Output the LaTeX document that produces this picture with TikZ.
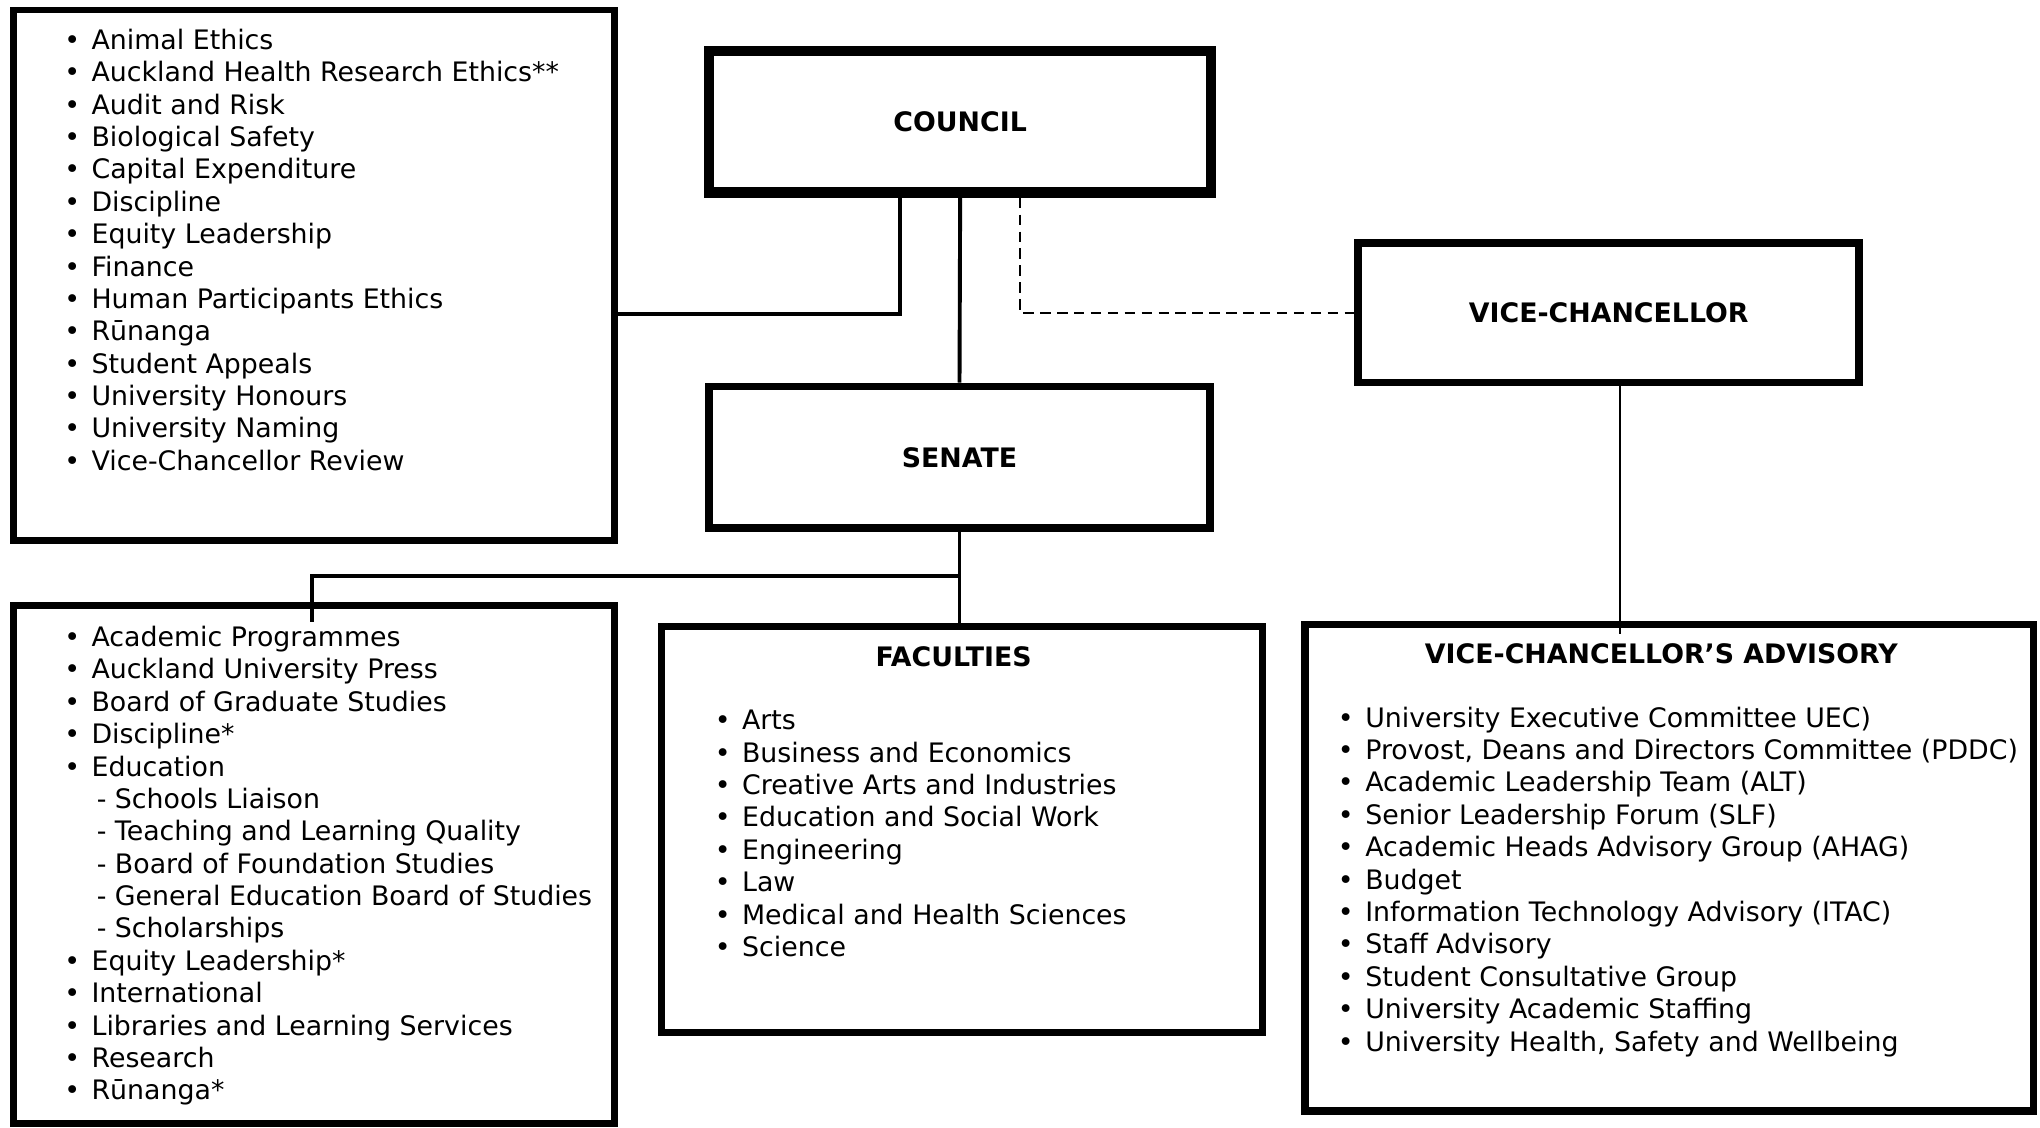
\documentclass[tikz,border=0pt]{standalone}
\usepackage{fontspec}
\setmainfont{DejaVu Sans}
\usetikzlibrary{positioning}
\tikzstyle{panel} = [rectangle, draw=black, line width=2.5pt, inner sep=0pt]
\tikzstyle{head} = [font=\fontsize{10.3pt}{12.45pt}\selectfont\bfseries, inner sep=0pt]
\tikzstyle{list} = [align=left, inner sep=0pt, font=\fontsize{10.3pt}{12.45pt}\selectfont]
\tikzstyle{link} = [line width=1.5pt]
\newcommand{\bul}[1]{\makebox[10.5pt][l]{\textbullet}#1}
\newcommand{\sub}[1]{\hspace*{12.5pt}- #1}

\begin{document}
\begin{tikzpicture}[x=0.5pt, y=-0.5pt]
  \useasboundingbox (0,0) rectangle (1568,867);

  % boxes
  \node (council) [panel, line width=4pt, minimum width=193pt, minimum height=54.5pt] at (738,93.5) {};
  \node (vc) [panel, line width=3pt, minimum width=192.5pt, minimum height=53.5pt] at (1236.5,240.5) {};
  \node (senate) [panel, line width=3pt, minimum width=192.5pt, minimum height=54.5pt] at (737.5,351.5) {};
  \node (cttees) [panel, minimum width=231pt, minimum height=204pt] at (241.5,211.5) {};
  \node (senbox) [panel, minimum width=231pt, minimum height=199pt] at (241.5,664.5) {};
  \node (faculties) [panel, minimum width=231pt, minimum height=156pt] at (739.5,637.5) {};
  \node (advisory) [panel, line width=3pt, minimum width=280pt, minimum height=187pt] at (1283,667) {};

  % headings
  \node (councilhd) [head] at (council) {COUNCIL};
  \node (vchd) [head] at (vc) {VICE-CHANCELLOR};
  \node (senatehd) [head] at (senate) {SENATE};
  \node (facultieshd) [head, below=8.75pt of faculties.north, xshift=-3.25pt] {FACULTIES};
  \node (advisoryhd) [head, below=8.75pt of advisory.north, xshift=-3pt] {VICE-CHANCELLOR’S ADVISORY};

  % lists
  \node (cttlist) [list, below right=8.4pt and 20.5pt of cttees.north west] {
    \bul{Animal Ethics}\\
    \bul{Auckland Health Research Ethics**}\\
    \bul{Audit and Risk}\\
    \bul{Biological Safety}\\
    \bul{Capital Expenditure}\\
    \bul{Discipline}\\
    \bul{Equity Leadership}\\
    \bul{Finance}\\
    \bul{Human Participants Ethics}\\
    \bul{Rūnanga}\\
    \bul{Student Appeals}\\
    \bul{University Honours}\\
    \bul{University Naming}\\
    \bul{Vice-Chancellor Review}};

  \node (senlist) [list, below right=8.9pt and 20.5pt of senbox.north west] {
    \bul{Academic Programmes}\\
    \bul{Auckland University Press}\\
    \bul{Board of Graduate Studies}\\
    \bul{Discipline*}\\
    \bul{Education}\\
    \sub{Schools Liaison}\\
    \sub{Teaching and Learning Quality}\\
    \sub{Board of Foundation Studies}\\
    \sub{General Education Board of Studies}\\
    \sub{Scholarships}\\
    \bul{Equity Leadership*}\\
    \bul{International}\\
    \bul{Libraries and Learning Services}\\
    \bul{Research}\\
    \bul{Rūnanga*}};

  \node (faclist) [list, below right=33.25pt and 21.5pt of faculties.north west] {
    \bul{Arts}\\
    \bul{Business and Economics}\\
    \bul{Creative Arts and Industries}\\
    \bul{Education and Social Work}\\
    \bul{Engineering}\\
    \bul{Law}\\
    \bul{Medical and Health Sciences}\\
    \bul{Science}};

  \node (advlist) [list, below right=32.9pt and 14pt of advisory.north west] {
    \bul{University Executive Committee UEC)}\\
    \bul{Provost, Deans and Directors Committee (PDDC)}\\
    \bul{Academic Leadership Team (ALT)}\\
    \bul{Senior Leadership Forum (SLF)}\\
    \bul{Academic Heads Advisory Group (AHAG)}\\
    \bul{Budget}\\
    \bul{Information Technology Advisory (ITAC)}\\
    \bul{Staff Advisory}\\
    \bul{Student Consultative Group}\\
    \bul{University Academic Staffing}\\
    \bul{University Health, Safety and Wellbeing}};

  % connectors
  \draw [link] ([xshift=-23pt]council.south) |- ([yshift=-14.75pt]cttees.east);
  \draw [link] (council.south) -- (senate.north);
  \draw [line width=1pt, dash pattern=on 4pt off 2.5pt] ([xshift=23pt]council.south) |- (vc.west);
  \draw [line width=0.7pt] ([xshift=4.25pt]vc.south) -- ([xshift=4.25pt, yshift=-5pt]vc.south |- advisory.north);
  \draw [link] (senate.south) -- (senate.south |- faculties.north);
  \draw [link] ([yshift=-17pt]senate.south) -| ([xshift=-0.75pt, yshift=-7.5pt]senbox.north);
\end{tikzpicture}
\end{document}
